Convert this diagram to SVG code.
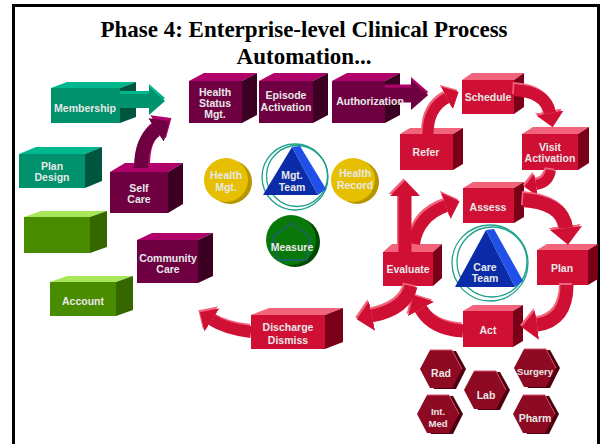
<svg xmlns="http://www.w3.org/2000/svg" xmlns:xlink="http://www.w3.org/1999/xlink" width="602" height="444" viewBox="0 0 602 444">
<style>
.title{font-family:"Liberation Serif","Times New Roman",serif;font-weight:bold;font-size:23px;fill:#000;text-anchor:middle}
.lbl{font-family:"Liberation Sans",Arial,sans-serif;font-weight:bold;font-size:10.5px;fill:#e8e8e8;text-anchor:middle}
.sm{font-size:9.5px}
.teal .t{fill:#00b88e}.teal .f{fill:#00926c}.teal .s{fill:#00553f}
.green .t{fill:#a6e85a}.green .f{fill:#4a8c00}.green .s{fill:#356600}
.purple .t{fill:#b0006a}.purple .f{fill:#6e0042}.purple .s{fill:#3c0022}
.red .t{fill:#f2637c}.red .f{fill:#cf1034}.red .s{fill:#7a0018}
.gold .sh{fill:#b89400}.gold .fc{fill:#e6c000}
.grn .sh{fill:#004a00}.grn .fc{fill:#087808}
.ring{fill:none;stroke:#1fa08c;stroke-width:1.3}
.rm{fill:none;stroke:#cf1034;marker-end:url(#hr)}
.rh{fill:none;stroke:#f2637c;marker-end:url(#hrp)}
.pm{fill:none;stroke:#6e0042;marker-end:url(#hp)}
.ph{fill:none;stroke:#b0006a;marker-end:url(#hpp)}
.tm{fill:none;stroke:#00926c;marker-end:url(#ht)}
.th{fill:none;stroke:#00b88e;marker-end:url(#htp)}
</style>
<defs>
<marker id="hr" viewBox="0 0 10 10" refX="0" refY="5" markerWidth="1.2" markerHeight="2.3" orient="auto" preserveAspectRatio="none"><path d="M0,0 L10,5 L0,10z" fill="#cf1034"/></marker>
<marker id="hrp" viewBox="0 0 10 10" refX="0" refY="5" markerWidth="1.2" markerHeight="2.3" orient="auto" preserveAspectRatio="none"><path d="M0,0 L10,5 L0,10z" fill="#f2637c"/></marker>
<marker id="hp" viewBox="0 0 10 10" refX="0" refY="5" markerWidth="1.15" markerHeight="2" orient="auto" preserveAspectRatio="none"><path d="M0,0 L10,5 L0,10z" fill="#6e0042"/></marker>
<marker id="hpp" viewBox="0 0 10 10" refX="0" refY="5" markerWidth="1.15" markerHeight="2" orient="auto" preserveAspectRatio="none"><path d="M0,0 L10,5 L0,10z" fill="#b0006a"/></marker>
<marker id="ht" viewBox="0 0 10 10" refX="0" refY="5" markerWidth="1.15" markerHeight="2" orient="auto" preserveAspectRatio="none"><path d="M0,0 L10,5 L0,10z" fill="#00926c"/></marker>
<marker id="htp" viewBox="0 0 10 10" refX="0" refY="5" markerWidth="1.15" markerHeight="2" orient="auto" preserveAspectRatio="none"><path d="M0,0 L10,5 L0,10z" fill="#00b88e"/></marker>
<g id="hex">
<polygon points="-17,0 -7,-18 15,-18 25,0 15,20 -7,20" fill="#4d0010"/>
<polygon points="-21,0 -11,-19 11,-19 21,0 11,19 -11,19" fill="#8e0a22"/>
<polyline points="-11,-19 11,-19 21,0" fill="none" stroke="#d8506a" stroke-width="1"/>
</g>
<path id="a1" d="M428,134 Q428,108 447,98" stroke-width="11"/>
<path id="a2" d="M514,90 Q546,92 550,113" stroke-width="12"/>
<path id="a3" d="M551,170 Q549,183 536,185" stroke-width="10"/>
<path id="a4" d="M523,200 Q563,203 566,228" stroke-width="14"/>
<path id="a5" d="M567,285 Q567,321 537,325" stroke-width="13"/>
<path id="a6" d="M463,331 Q432,329 421,309" stroke-width="13"/>
<path id="a7" d="M414,244 Q418,216 446,206" stroke-width="12"/>
<path id="a8" d="M405,252 L405,196" stroke-width="13"/>
<path id="a9" d="M411,286 Q406,309 372,316" stroke-width="13"/>
<path id="a10" d="M251,332 Q226,329 212,320" stroke-width="12"/>
<path id="p1" d="M141,168 Q141,140 156,130" stroke-width="14"/>
<path id="p2" d="M385,95 L411,95" stroke-width="15"/>
<path id="t1" d="M120,101 L149,101" stroke-width="14"/>
</defs>
<rect x="0" y="0" width="602" height="444" fill="#fff"/>
<rect x="13.5" y="5.5" width="585" height="470" fill="#fff" stroke="#000" stroke-width="3"/>
<text class="title" x="304" y="37">Phase 4: Enterprise-level Clinical Process</text>
<text class="title" x="304" y="64">Automation...</text>

<g id="membership" class="teal">
<polygon class="t" points="51,88 67,82 136,82 120,88"/><rect class="f" x="51" y="88" width="69" height="35"/><polygon class="s" points="120,88 136,82 136,117 120,123"/>
<text class="lbl" x="85" y="112">Membership</text></g>
<g id="plan-design" class="teal">
<polygon class="t" points="19,154 36,147 102,147 85,154"/><rect class="f" x="19" y="154" width="66" height="34"/><polygon class="s" points="85,154 102,147 102,181 85,188"/>
<text class="lbl" x="52" y="170">Plan</text><text class="lbl" x="52" y="181">Design</text></g>
<g id="green-box" class="green">
<polygon class="t" points="24,217 41,211 107,211 90,217"/><rect class="f" x="24" y="217" width="66" height="36"/><polygon class="s" points="90,217 107,211 107,247 90,253"/></g>
<g id="account" class="green">
<polygon class="t" points="50,282 67,276 133,276 116,282"/><rect class="f" x="50" y="282" width="66" height="34"/><polygon class="s" points="116,282 133,276 133,310 116,316"/>
<text class="lbl" x="83" y="305">Account</text></g>
<g id="self-care" class="purple">
<polygon class="t" points="110,172 125,163 183,163 168,172"/><rect class="f" x="110" y="172" width="58" height="41"/><polygon class="s" points="168,172 183,163 183,204 168,213"/>
<text class="lbl" x="139" y="192">Self</text><text class="lbl" x="139" y="203">Care</text></g>
<g id="community-care" class="purple">
<polygon class="t" points="137,240 152,233 213,233 198,240"/><rect class="f" x="137" y="240" width="61" height="43"/><polygon class="s" points="198,240 213,233 213,276 198,283"/>
<text class="lbl" x="168" y="262">Community</text><text class="lbl" x="168" y="273">Care</text></g>
<g id="health-status" class="purple">
<polygon class="t" points="189,81 204,73 257,73 242,81"/><rect class="f" x="189" y="81" width="53" height="42"/><polygon class="s" points="242,81 257,73 257,115 242,123"/>
<text class="lbl" x="215" y="96">Health</text><text class="lbl" x="215" y="107">Status</text><text class="lbl" x="215" y="118">Mgt.</text></g>
<g id="episode" class="purple">
<polygon class="t" points="259,81 274,73 328,73 313,81"/><rect class="f" x="259" y="81" width="54" height="42"/><polygon class="s" points="313,81 328,73 328,115 313,123"/>
<text class="lbl" x="286" y="99">Episode</text><text class="lbl" x="286" y="111">Activation</text></g>
<g id="authorization" class="purple">
<polygon class="t" points="332,81 347,73 400,73 385,81"/><rect class="f" x="332" y="81" width="53" height="42"/><polygon class="s" points="385,81 400,73 400,115 385,123"/></g>

<g id="schedule" class="red">
<polygon class="t" points="462,80 472,73 524,73 514,80"/><rect class="f" x="462" y="80" width="52" height="34"/><polygon class="s" points="514,80 524,73 524,107 514,114"/>
<text class="lbl" x="488" y="101">Schedule</text></g>
<g id="refer" class="red">
<polygon class="t" points="400,134 410,128 463,128 453,134"/><rect class="f" x="400" y="134" width="53" height="36"/><polygon class="s" points="453,134 463,128 463,164 453,170"/>
<text class="lbl" x="426" y="156">Refer</text></g>
<g id="visit" class="red">
<polygon class="t" points="522,134 533,127 589,127 578,134"/><rect class="f" x="522" y="134" width="56" height="36"/><polygon class="s" points="578,134 589,127 589,163 578,170"/>
<text class="lbl" x="550" y="151">Visit</text><text class="lbl" x="550" y="162">Activation</text></g>
<g id="assess" class="red">
<polygon class="t" points="463,188 473,182 524,182 514,188"/><rect class="f" x="463" y="188" width="51" height="35"/><polygon class="s" points="514,188 524,182 524,217 514,223"/>
<text class="lbl" x="488" y="211">Assess</text></g>
<g id="plan" class="red">
<polygon class="t" points="537,250 547,244 598,244 588,250"/><rect class="f" x="537" y="250" width="51" height="35"/><polygon class="s" points="588,250 598,244 598,279 588,285"/>
<text class="lbl" x="562" y="272">Plan</text></g>
<g id="evaluate" class="red">
<polygon class="t" points="383,252 392,244 442,244 433,252"/><rect class="f" x="383" y="252" width="50" height="34"/><polygon class="s" points="433,252 442,244 442,278 433,286"/>
<text class="lbl" x="408" y="273">Evaluate</text></g>
<g id="act" class="red">
<polygon class="t" points="463,311 473,305 523,305 513,311"/><rect class="f" x="463" y="311" width="50" height="36"/><polygon class="s" points="513,311 523,305 523,341 513,347"/>
<text class="lbl" x="488" y="334">Act</text></g>
<g id="discharge" class="red">
<polygon class="t" points="251,315 269,308 343,308 325,315"/><rect class="f" x="251" y="315" width="74" height="34"/><polygon class="s" points="325,315 343,308 343,342 325,349"/>
<text class="lbl" x="288" y="331">Discharge</text><text class="lbl" x="288" y="344">Dismiss</text></g>

<g id="health-mgt" class="gold">
<circle class="sh" cx="230" cy="182" r="22"/><circle class="fc" cx="226" cy="180" r="22"/>
<text class="lbl" x="226" y="179">Health</text><text class="lbl" x="226" y="191">Mgt.</text></g>
<g id="health-record" class="gold">
<circle class="sh" cx="357" cy="182" r="22"/><circle class="fc" cx="353" cy="180" r="22"/>
<text class="lbl" x="355" y="177">Health</text><text class="lbl" x="355" y="189">Record</text></g>
<g id="measure" class="grn">
<circle class="sh" cx="295" cy="242" r="25"/><circle class="fc" cx="291" cy="240" r="25"/>
<polygon points="292,223 310,237 307,260 278,260 272,237" fill="none" stroke="#3050c0" stroke-width="1"/>
<text class="lbl" x="292" y="251">Measure</text></g>
<g id="mgt-team">
<circle class="ring" cx="295" cy="177" r="33"/><circle class="ring" cx="297" cy="176" r="30.5"/>
<polygon points="292,147 263,195 318,195" fill="#0a2ca8"/><polygon points="292,147 300,146 326,189 318,195" fill="#2050e8"/>
<text class="lbl" x="292" y="179">Mgt.</text><text class="lbl" x="292" y="191">Team</text></g>
<g id="care-team">
<circle class="ring" cx="490" cy="263" r="38"/><circle class="ring" cx="492" cy="262" r="35"/>
<polygon points="486,230 455,287 515,287" fill="#0a2ca8"/><polygon points="486,230 494,229 523,281 515,287" fill="#2050e8"/>
<text class="lbl" x="485" y="271">Care</text><text class="lbl" x="485" y="282">Team</text></g>

<g id="rad"><use xlink:href="#hex" x="441" y="369"/><text class="lbl" x="441" y="377">Rad</text></g>
<g id="lab"><use xlink:href="#hex" x="485" y="390"/><text class="lbl" x="486" y="399">Lab</text></g>
<g id="surgery"><use xlink:href="#hex" x="535" y="368"/><text class="lbl sm" x="535" y="375">Surgery</text></g>
<g id="int-med"><use xlink:href="#hex" x="438" y="414"/><text class="lbl sm" x="438" y="415">Int.</text><text class="lbl sm" x="438" y="426.5">Med</text></g>
<g id="pharm"><use xlink:href="#hex" x="534" y="414"/><text class="lbl" x="535" y="422">Pharm</text></g>

<g id="connectors">
<use xlink:href="#t1" class="th" transform="translate(0,-3)"/><use xlink:href="#t1" class="tm"/>
<use xlink:href="#p1" class="ph" transform="translate(2,-3)"/><use xlink:href="#p1" class="pm"/>
<use xlink:href="#p2" class="ph" transform="translate(0,-3)"/><use xlink:href="#p2" class="pm"/>
<use xlink:href="#a1" class="rh" transform="translate(-1.5,-2)"/><use xlink:href="#a1" class="rm"/>
<use xlink:href="#a2" class="rh" transform="translate(-1.5,-2)"/><use xlink:href="#a2" class="rm"/>
<use xlink:href="#a3" class="rh" transform="translate(-1.5,-2)"/><use xlink:href="#a3" class="rm"/>
<use xlink:href="#a4" class="rh" transform="translate(-1.5,-2)"/><use xlink:href="#a4" class="rm"/>
<use xlink:href="#a5" class="rh" transform="translate(-1.5,-2)"/><use xlink:href="#a5" class="rm"/>
<use xlink:href="#a6" class="rh" transform="translate(-1.5,-2)"/><use xlink:href="#a6" class="rm"/>
<use xlink:href="#a7" class="rh" transform="translate(-1.5,-2)"/><use xlink:href="#a7" class="rm"/>
<use xlink:href="#a8" class="rh" transform="translate(-1.5,-2)"/><use xlink:href="#a8" class="rm"/>
<use xlink:href="#a9" class="rh" transform="translate(-1.5,-2)"/><use xlink:href="#a9" class="rm"/>
<use xlink:href="#a10" class="rh" transform="translate(-1.5,-2)"/><use xlink:href="#a10" class="rm"/>
</g>
<text class="lbl" x="370" y="105">Authorization</text>
</svg>
